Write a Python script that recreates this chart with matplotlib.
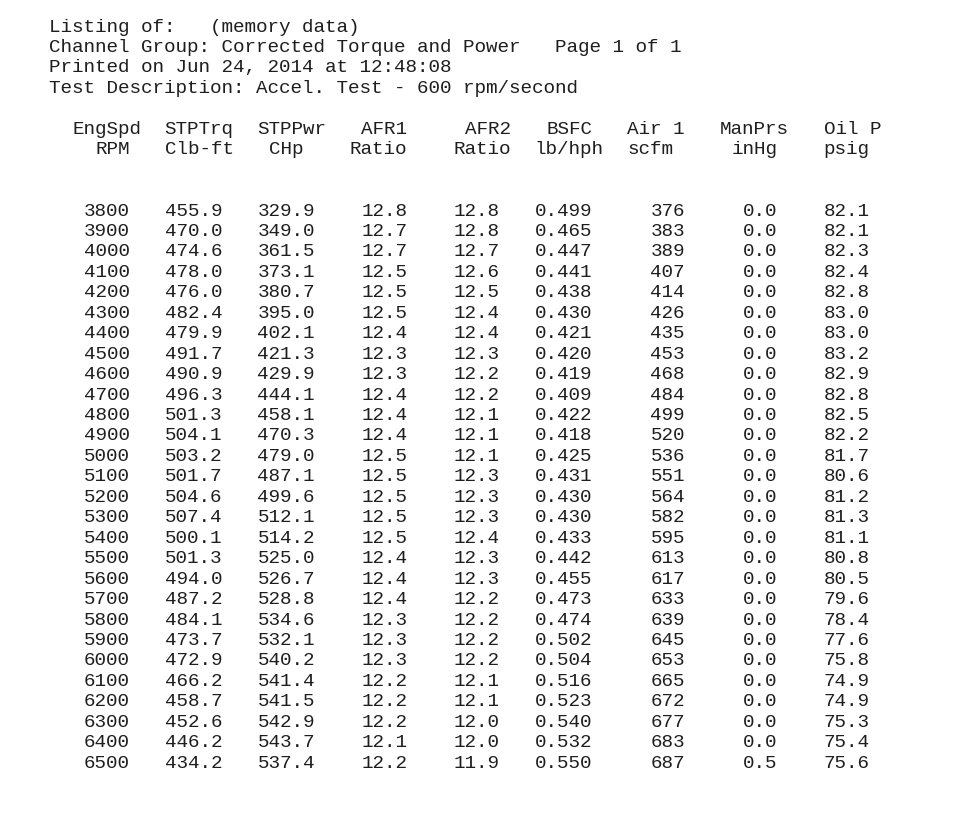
import matplotlib
matplotlib.use("Agg")
import matplotlib.pyplot as plt

# ---------------- data ----------------
title_lines = [
    "Listing of:   (memory data)",
    "Channel Group: Corrected Torque and Power   Page 1 of 1",
    "Printed on Jun 24, 2014 at 12:48:08",
    "Test Description: Accel. Test - 600 rpm/second",
]
channel_names = ["EngSpd", "STPTrq", "STPPwr", "AFR1", "AFR2", "BSFC", "Air 1", "ManPrs", "Oil P"]
channel_units = ["RPM", "Clb-ft", "CHp", "Ratio", "Ratio", "lb/hph", "scfm", "inHg", "psig"]

eng_spd = [3800, 3900, 4000, 4100, 4200, 4300, 4400, 4500, 4600, 4700, 4800, 4900, 5000, 5100,
           5200, 5300, 5400, 5500, 5600, 5700, 5800, 5900, 6000, 6100, 6200, 6300, 6400, 6500]
stp_trq = [455.9, 470.0, 474.6, 478.0, 476.0, 482.4, 479.9, 491.7, 490.9, 496.3, 501.3, 504.1, 503.2, 501.7,
           504.6, 507.4, 500.1, 501.3, 494.0, 487.2, 484.1, 473.7, 472.9, 466.2, 458.7, 452.6, 446.2, 434.2]
stp_pwr = [329.9, 349.0, 361.5, 373.1, 380.7, 395.0, 402.1, 421.3, 429.9, 444.1, 458.1, 470.3, 479.0, 487.1,
           499.6, 512.1, 514.2, 525.0, 526.7, 528.8, 534.6, 532.1, 540.2, 541.4, 541.5, 542.9, 543.7, 537.4]
afr1 = [12.8, 12.7, 12.7, 12.5, 12.5, 12.5, 12.4, 12.3, 12.3, 12.4, 12.4, 12.4, 12.5, 12.5,
        12.5, 12.5, 12.5, 12.4, 12.4, 12.4, 12.3, 12.3, 12.3, 12.2, 12.2, 12.2, 12.1, 12.2]
afr2 = [12.8, 12.8, 12.7, 12.6, 12.5, 12.4, 12.4, 12.3, 12.2, 12.2, 12.1, 12.1, 12.1, 12.3,
        12.3, 12.3, 12.4, 12.3, 12.3, 12.2, 12.2, 12.2, 12.2, 12.1, 12.1, 12.0, 12.0, 11.9]
bsfc = [0.499, 0.465, 0.447, 0.441, 0.438, 0.430, 0.421, 0.420, 0.419, 0.409, 0.422, 0.418, 0.425, 0.431,
        0.430, 0.430, 0.433, 0.442, 0.455, 0.473, 0.474, 0.502, 0.504, 0.516, 0.523, 0.540, 0.532, 0.550]
air1 = [376, 383, 389, 407, 414, 426, 435, 453, 468, 484, 499, 520, 536, 551,
        564, 582, 595, 613, 617, 633, 639, 645, 653, 665, 672, 677, 683, 687]
man_prs = [0.0] * 27 + [0.5]
oil_p = [82.1, 82.1, 82.3, 82.4, 82.8, 83.0, 83.0, 83.2, 82.9, 82.8, 82.5, 82.2, 81.7, 80.6,
         81.2, 81.3, 81.1, 80.8, 80.5, 79.6, 78.4, 77.6, 75.8, 74.9, 74.9, 75.3, 75.4, 75.6]

columns = [eng_spd, stp_trq, stp_pwr, afr1, afr2, bsfc, air1, man_prs, oil_p]
formats = ["{:d}", "{:.1f}", "{:.1f}", "{:.1f}", "{:.1f}", "{:.3f}", "{:d}", "{:.1f}", "{:.1f}"]

# ---------------- layout (fixed-pitch page grid) ----------------
W, H = 963, 826
x0, cw = 49.0, 11.5625      # left margin px, char width px
b0, lh = 31.5, 20.45        # first baseline px, line height px
fs = cw / 0.6 * 72 / 100    # font size (pt) so that advance == char width
color = "#1e1e1e"
font = "Liberation Mono"

name_cols = [2, 10, 18, 27, 36, 43, 50, 58, 67]
unit_cols = [4, 10, 19, 26, 35, 42, 50, 59, 67]
field_end = [7 + 8 * i for i in range(len(columns))]
name_line, unit_line, first_data_line = 5, 6, 9

fig = plt.figure(figsize=(W / 100, H / 100), dpi=100)
fig.patch.set_facecolor("white")
ax = fig.add_axes([0, 0, 1, 1])
ax.set_xlim(-x0 / cw, (W - x0) / cw)
ax.set_ylim((H - b0) / lh, -b0 / lh)
ax.axis("off")

kw = dict(family=font, fontsize=fs, color=color, va="baseline")

for i, line in enumerate(title_lines):
    ax.text(0, i, line, ha="left", **kw)

for c, name in zip(name_cols, channel_names):
    ax.text(c, name_line, name, ha="left", **kw)
for c, unit in zip(unit_cols, channel_units):
    ax.text(c, unit_line, unit, ha="left", **kw)

for col, fmt, end in zip(columns, formats, field_end):
    for r, v in enumerate(col):
        ax.text(end, first_data_line + r, fmt.format(v), ha="right", **kw)

fig.savefig("out.png", dpi=100, facecolor="white")
